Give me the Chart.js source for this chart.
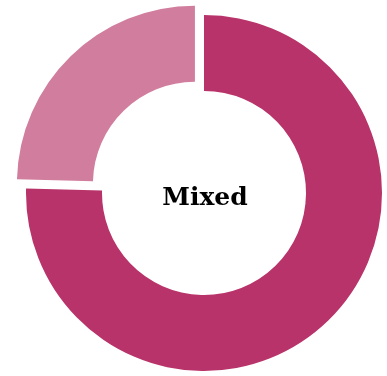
<!DOCTYPE html>
<html>
<head>
<meta charset="utf-8">
<script src="https://cdn.jsdelivr.net/npm/chart.js@4/dist/chart.umd.min.js"></script>
<style>
    html, body { margin: 0; padding: 0; background: #ffffff; }
    #wrap { position: relative; width: 387px; height: 376px; }
</style>
</head>
<body>
<div id="wrap"><canvas id="chart"></canvas></div>
<script>
// Chart data
const categories = ['Mixed', 'Other'];
const shares = [75.4, 24.6];
const sliceColors = ['#b83369', '#d17e9e'];
const sliceOffsets = [0, 52];
const centerLabel = 'Mixed';

// Draws the label in the hole of the ring
const centerText = {
    id: 'centerText',
    afterDatasetsDraw(chart) {
        const arc = chart.getDatasetMeta(0).data[0];
        const ctx = chart.ctx;
        ctx.save();
        ctx.font = 'bold 25px "DejaVu Serif"';
        ctx.fillStyle = '#000000';
        ctx.textAlign = 'center';
        ctx.textBaseline = 'middle';
        ctx.fillText(centerLabel, arc.x + 1, arc.y + 5);
        ctx.restore();
    }
};

new Chart(document.getElementById('chart'), {
    type: 'doughnut',
    data: {
        labels: categories,
        datasets: [{
            data: shares,
            backgroundColor: sliceColors,
            offset: sliceOffsets,
            hoverOffset: 0,
            borderWidth: 0,
            clip: false
        }]
    },
    options: {
        responsive: true,
        maintainAspectRatio: false,
        animation: false,
        radius: 178,
        cutout: '57.3%',
        layout: {
            padding: { left: 21, right: 0, top: 10, bottom: 0 }
        },
        plugins: {
            legend: { display: false },
            tooltip: { enabled: false }
        }
    },
    plugins: [centerText]
});
</script>
</body>
</html>
